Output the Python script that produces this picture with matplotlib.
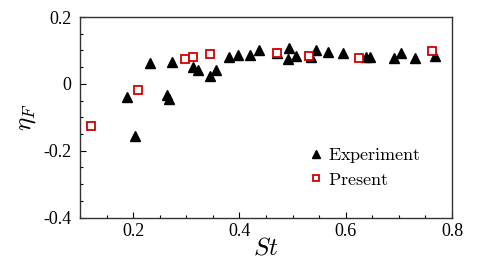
import matplotlib

matplotlib.use("Agg")

import matplotlib.pyplot as plt
from matplotlib.ticker import MultipleLocator

# Experimental data (St, eta_F)
exp_st = [0.189, 0.204, 0.231, 0.264, 0.267, 0.273, 0.313, 0.322, 0.345, 0.356,
          0.380, 0.397, 0.420, 0.436, 0.470, 0.494, 0.492, 0.506, 0.534, 0.545,
          0.567, 0.595, 0.639, 0.645, 0.691, 0.705, 0.730, 0.768]
exp_eta = [-0.039, -0.155, 0.063, -0.034, -0.044, 0.066, 0.051, 0.041, 0.025, 0.041,
           0.079, 0.086, 0.086, 0.101, 0.091, 0.106, 0.075, 0.083, 0.081, 0.100,
           0.096, 0.091, 0.079, 0.081, 0.076, 0.093, 0.078, 0.083]

# Present simulation (St, eta_F)
pre_st = [0.120, 0.209, 0.298, 0.313, 0.344, 0.470, 0.531, 0.625, 0.762]
pre_eta = [-0.125, -0.017, 0.075, 0.081, 0.088, 0.091, 0.083, 0.076, 0.098]

plt.rcParams["mathtext.fontset"] = "cm"
plt.rcParams["font.family"] = "Liberation Serif"

fig = plt.figure(figsize=(4.98, 2.78), dpi=100)
ax = fig.add_axes([0.1606, 0.2176, 0.747, 0.721])

ax.plot(exp_st, exp_eta, linestyle="none", marker="^", markersize=6.5,
        color="black", label=r"$\mathrm{Experiment}$")
ax.plot(pre_st, pre_eta, linestyle="none", marker="s", markersize=5.5,
        markerfacecolor="white", markeredgecolor="#d40000", markeredgewidth=1.3,
        label=r"$\mathrm{Present}$")

ax.set_xlim(0.1, 0.8)
ax.set_ylim(-0.4, 0.2)
ax.xaxis.set_major_locator(MultipleLocator(0.2))
ax.xaxis.set_minor_locator(MultipleLocator(0.05))
ax.yaxis.set_major_locator(MultipleLocator(0.2))
ax.yaxis.set_minor_locator(MultipleLocator(0.05))
ax.tick_params(which="both", direction="in", labelsize=13, width=0.8)
ax.tick_params(which="major", length=4)
ax.tick_params(which="minor", length=2.5)
ax.tick_params(axis="y", pad=6)
ax.tick_params(axis="x", pad=4)
ax.set_yticks([-0.4, -0.2, 0, 0.2])
ax.set_yticklabels(["-0.4", "-0.2", "0", "0.2"])
for s in ax.spines.values():
    s.set_linewidth(1.0)
    s.set_color("#333333")

ax.set_xlabel(r"$St$", fontsize=18, labelpad=-2)
ax.set_ylabel(r"$\eta_F$", fontsize=18, labelpad=4)

ax.legend(loc="center left", bbox_to_anchor=(0.6, 0.25), frameon=False,
          fontsize=13, handlelength=0.6, handletextpad=0.4, markerscale=0.8,
          labelspacing=0.35, borderaxespad=0)

fig.savefig("out.png", dpi=100)
